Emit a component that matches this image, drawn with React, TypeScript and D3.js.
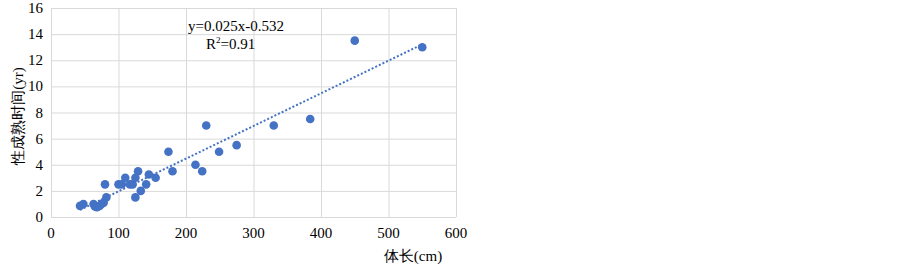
import { useEffect, useRef } from "react";
import * as d3 from "d3";

// body length (cm) vs age at sexual maturity (yr)
const lengths = [
  43, 48, 63, 65, 68, 72, 75, 78, 82, 80,
  100, 105, 110, 117, 121, 125, 125, 129, 133, 141,
  145, 155, 174, 180, 214, 224, 230, 249, 275, 330,
  384, 450, 550,
];
const ages = [
  0.85, 1.0, 1.0, 0.8, 0.75, 0.85, 1.0, 1.1, 1.5, 2.5,
  2.5, 2.5, 3.0, 2.5, 2.5, 1.5, 3.0, 3.5, 2.0, 2.5,
  3.25, 3.0, 5.0, 3.5, 4.0, 3.5, 7.0, 5.0, 5.5, 7.0,
  7.5, 13.5, 13.0,
];
const xTicks = [0, 100, 200, 300, 400, 500, 600];
const yTicks = [0, 2, 4, 6, 8, 10, 12, 14, 16];
const slope = 0.025;
const intercept = -0.532;
const equationLabel = "y=0.025x-0.532";
const xTitle = "体长(cm)";
const yTitle = "性成熟时间(yr)";

export default function App() {
  const ref = useRef<SVGSVGElement>(null);

  useEffect(() => {
    const width = 903;
    const height = 267;
    const margin = { top: 8, right: 447, bottom: 50, left: 51 };

    const svg = d3.select(ref.current);
    svg.selectAll("*").remove();

    const x = d3.scaleLinear().domain([0, 600]).range([margin.left, width - margin.right]);
    const y = d3.scaleLinear().domain([0, 16]).range([height - margin.bottom, margin.top]);

    const blue = "#4472C4";

    // gridlines
    const g = svg.append("g");
    g.selectAll("line.h")
      .data(yTicks)
      .enter()
      .append("line")
      .attr("x1", x(0))
      .attr("x2", x(600))
      .attr("y1", (d) => y(d) + 0.5)
      .attr("y2", (d) => y(d) + 0.5)
      .attr("stroke", "#d9d9d9")
      .attr("stroke-width", 1);
    g.selectAll("line.v")
      .data(xTicks)
      .enter()
      .append("line")
      .attr("y1", y(0))
      .attr("y2", y(16))
      .attr("x1", (d) => x(d) + 0.5)
      .attr("x2", (d) => x(d) + 0.5)
      .attr("stroke", "#d9d9d9")
      .attr("stroke-width", 1);

    // tick labels
    svg.selectAll("text.xt")
      .data(xTicks)
      .enter()
      .append("text")
      .attr("x", (d) => x(d))
      .attr("y", y(0) + 21)
      .attr("text-anchor", "middle")
      .text((d) => d);
    svg.selectAll("text.yt")
      .data(yTicks)
      .enter()
      .append("text")
      .attr("x", x(0) - 8)
      .attr("y", (d) => y(d) + 5)
      .attr("text-anchor", "end")
      .text((d) => d);

    // trendline
    const xr = d3.extent(lengths) as [number, number];
    svg.append("line")
      .attr("x1", x(xr[0]))
      .attr("y1", y(slope * xr[0] + intercept))
      .attr("x2", x(xr[1]))
      .attr("y2", y(slope * xr[1] + intercept))
      .attr("stroke", blue)
      .attr("stroke-width", 2)
      .attr("stroke-dasharray", "2,2");

    // points
    svg.selectAll("circle")
      .data(lengths)
      .enter()
      .append("circle")
      .attr("cx", (d) => x(d))
      .attr("cy", (d, i) => y(ages[i]))
      .attr("r", 4.3)
      .attr("fill", blue);

    // equation
    svg.append("text")
      .attr("x", 188)
      .attr("y", 31)
      .text(equationLabel);
    const r2 = svg.append("text").attr("x", 206).attr("y", 49);
    r2.append("tspan").text("R");
    r2.append("tspan").attr("dy", -6).attr("font-size", 9).text("2");
    r2.append("tspan").attr("dy", 6).text("=0.91");

    // axis titles
    svg.append("text")
      .attr("x", 413)
      .attr("y", 261)
      .attr("text-anchor", "middle")
      .text(xTitle);
    svg.append("text")
      .attr("transform", "translate(23,116) rotate(-90)")
      .attr("text-anchor", "middle")
      .text(yTitle);
  }, []);

  return (
    <svg
      ref={ref}
      width={903}
      height={267}
      fontFamily="Liberation Serif, DejaVu Serif, serif"
      fontSize={15}
      style={{ position: "absolute", left: 0, top: 0, background: "#fff" }}
    />
  );
}
